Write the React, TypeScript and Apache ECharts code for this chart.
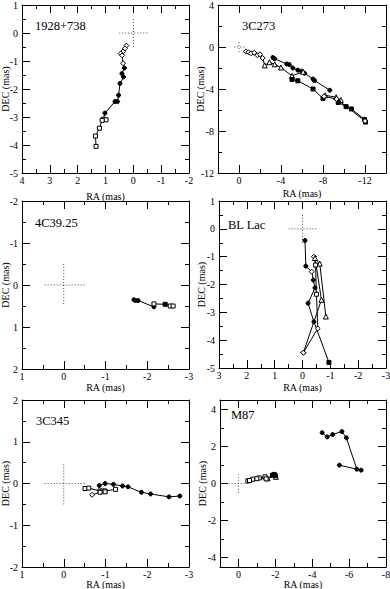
import React, { useEffect, useRef } from 'react';
import * as echarts from 'echarts';

type Pt = [number, number, string];

// ---------- data ----------
const titles = ['1928+738', '3C273', '4C39.25', 'BL Lac', '3C345', 'M87'];
const xName = 'RA (mas)';
const yName = 'DEC (mas)';

// origin cross (dotted)
const crossH: [number, number][] = [[-0.5, 0], [0.5, 0]];
const crossV: [number, number][] = [[0, -0.5], [0, 0.5]];

// markers: C filled circle, Q filled square, S open square, D open diamond, T open triangle, O open circle
const p1Tracks: Pt[][] = [[
  [0.25, -0.45, 'D'], [0.3, -0.55, 'D'], [0.37, -0.66, 'D'], [0.45, -0.73, 'D'], [0.4, -0.8, 'D'],
  [0.37, -1.08, 'D'], [0.32, -1.25, 'C'], [0.41, -1.45, 'C'], [0.35, -1.57, 'C'], [0.48, -1.8, 'C'],
  [0.53, -2.22, 'C'], [0.57, -2.45, 'C'], [0.66, -2.45, 'C'], [1.02, -2.86, 'C'], [1.08, -3.08, 'S'],
  [0.98, -3.1, 'S'], [1.12, -3.12, 'S'], [1.22, -3.4, 'S'], [1.36, -3.68, 'S'], [1.34, -4.05, 'S'],
]];

const p2Tracks: Pt[][] = [
  [
    [-3.22, -1.0, 'C'], [-3.4, -1.12, 'C'], [-4.55, -1.62, 'C'], [-4.8, -1.68, 'C'], [-5.13, -2.0, 'C'],
    [-5.6, -2.2, 'C'], [-5.95, -2.3, 'C'], [-6.25, -2.5, 'C'], [-7.05, -3.05, 'C'], [-7.2, -3.2, 'C'],
    [-8.65, -4.12, 'C'],
  ],
  [
    [-0.65, -0.42, 'D'], [-0.9, -0.5, 'D'], [-1.15, -0.6, 'D'], [-1.45, -0.55, 'D'], [-1.75, -0.78, 'D'],
    [-2.0, -0.7, 'D'], [-2.25, -1.05, 'D'], [-2.45, -1.75, 'T'], [-2.9, -1.45, 'T'], [-3.4, -1.65, 'T'],
    [-4.0, -1.95, 'T'], [-5.05, -2.75, 'T'], [-6.1, -2.35, 'T'],
  ],
  [
    [-5.05, -3.1, 'Q'], [-5.6, -3.22, 'Q'], [-7.05, -4.0, 'Q'], [-8.0, -4.9, 'Q'], [-8.2, -4.6, 'T'],
    [-9.25, -4.78, 'T'], [-9.7, -5.05, 'T'], [-9.45, -5.28, 'Q'], [-10.2, -5.68, 'Q'], [-10.7, -5.9, 'Q'],
    [-11.95, -6.9, 'Q'], [-12.05, -7.15, 'Q'],
  ],
  [
    [-8.1, -4.7, 'D'], [-9.3, -4.95, 'D'], [-12.0, -7.05, 'D'],
  ],
];

const p3Tracks: Pt[][] = [[
  [-1.68, 0.35, 'C'], [-1.72, 0.37, 'C'], [-1.78, 0.37, 'C'], [-2.16, 0.52, 'C'], [-2.16, 0.45, 'S'],
  [-2.43, 0.46, 'Q'], [-2.55, 0.5, 'S'], [-2.62, 0.5, 'S'],
]];

const p4Tracks: Pt[][] = [
  [
    [-0.09, -0.42, 'C'], [-0.12, -1.34, 'C'], [-0.33, -1.54, 'D'], [-0.39, -1.84, 'C'], [-0.45, -2.12, 'C'],
    [-0.2, -2.67, 'C'], [-0.41, -3.34, 'C'], [-0.95, -4.8, 'Q'],
  ],
  [
    [-0.41, -1.0, 'D'], [-0.47, -1.3, 'S'], [-0.5, -2.35, 'S'], [-0.55, -3.58, 'O'], [-0.03, -4.45, 'D'],
  ],
  [
    [-0.03, -4.45, 'D'], [-0.68, -2.55, 'T'], [-0.45, -1.05, 'T'], [-0.62, -1.25, 'T'], [-0.84, -3.15, 'T'],
  ],
];

const p5Tracks: Pt[][] = [
  [
    [-0.85, -0.05, 'C'], [-0.99, 0.0, 'C'], [-1.19, -0.02, 'C'], [-1.41, -0.06, 'C'], [-1.54, -0.08, 'C'],
    [-1.86, -0.21, 'C'], [-2.08, -0.25, 'C'], [-2.52, -0.32, 'C'], [-2.78, -0.3, 'C'],
  ],
  [
    [-0.51, -0.12, 'S'], [-0.6, -0.11, 'S'], [-0.87, -0.18, 'S'], [-0.93, -0.18, 'S'], [-0.99, -0.18, 'S'],
    [-1.24, -0.14, 'S'],
  ],
  [
    [-0.68, -0.27, 'D'], [-0.87, -0.21, 'S'], [-0.99, -0.2, 'S'],
  ],
];

const p6Tracks: Pt[][] = [
  [
    [-4.54, 2.74, 'C'], [-4.81, 2.51, 'C'], [-5.11, 2.64, 'C'], [-5.61, 2.8, 'C'], [-5.85, 2.46, 'C'],
    [-6.42, 0.77, 'C'], [-5.47, 0.99, 'C'],
  ],
  [[-6.65, 0.72, 'C']],
  [
    [-0.51, 0.14, 'S'], [-0.78, 0.23, 'S'], [-1.13, 0.3, 'S'], [-1.44, 0.36, 'S'], [-1.58, 0.28, 'T'],
    [-1.85, 0.45, 'Q'], [-1.94, 0.49, 'Q'], [-2.03, 0.36, 'T'],
  ],
  [
    [-0.6, 0.16, 'S'], [-1.0, 0.26, 'S'], [-1.5, 0.25, 'S'], [-2.0, 0.42, 'Q'],
  ],
];

// axis ranges
const p1X = [-2, 4]; const p1Y = [-5, 1];
const p2X = [-14, 2]; const p2Y = [-12, 4];
const p3X = [-3, 1]; const p3Y = [-2, 2];
const p4X = [-3, 3]; const p4Y = [-5, 1];
const p5X = [-3, 1]; const p5Y = [-2, 2];
const p6X = [-8, 1]; const p6Y = [-4.5, 4.5];

// tick labels / major ticks
const p1XMajor = [-2, -1, 0, 1, 2, 3, 4]; const p1YMajor = [-5, -4, -3, -2, -1, 0, 1];
const p2XMajor = [-12, -8, -4, 0]; const p2YMajor = [-12, -8, -4, 0, 4];
const p3XMajor = [-3, -2, -1, 0, 1]; const p3YMajor = [-2, -1, 0, 1, 2];
const p4XMajor = [-3, -2, -1, 0, 1, 2, 3]; const p4YMajor = [-5, -4, -3, -2, -1, 0, 1];
const p5XMajor = [-3, -2, -1, 0, 1]; const p5YMajor = [-2, -1, 0, 1, 2];
const p6XMajor = [-8, -6, -4, -2, 0]; const p6YMajor = [-4, -2, 0, 2, 4];

// minor ticks
const p1XMinor = [-1.5, -0.5, 0.5, 1.5, 2.5, 3.5]; const p1YMinor = [-4.5, -3.5, -2.5, -1.5, -0.5, 0.5];
const p2XMinor = [-14, -10, -6, -2, 2]; const p2YMinor = [-10, -6, -2, 2];
const p3XMinor = [-2.5, -1.5, -0.5, 0.5]; const p3YMinor = [-1.5, -0.5, 0.5, 1.5];
const p4XMinor = [-2.5, -1.5, -0.5, 0.5, 1.5, 2.5]; const p4YMinor = [-4.5, -3.5, -2.5, -1.5, -0.5, 0.5];
const p5XMinor = [-2.5, -1.5, -0.5, 0.5]; const p5YMinor = [-1.5, -0.5, 0.5, 1.5];
const p6XMinor = [-7, -5, -3, -1, 1]; const p6YMinor = [-3, -1, 1, 3];

// ---------- layout ----------
const FONT = 'Liberation Serif';
const panels = [
  { tracks: p1Tracks, x: p1X, y: p1Y, xMaj: p1XMajor, yMaj: p1YMajor, xMin: p1XMinor, yMin: p1YMinor, yInv: false,
    box: { left: 22, top: 5, width: 167, height: 168 }, title: { x: 35, y: 27 }, raY: 196, decX: 5 },
  { tracks: p2Tracks, x: p2X, y: p2Y, xMaj: p2XMajor, yMaj: p2YMajor, xMin: p2XMinor, yMin: p2YMinor, yInv: false,
    box: { left: 218, top: 5, width: 168, height: 168 }, title: { x: 242, y: 27 }, raY: 193, decX: 200 },
  { tracks: p3Tracks, x: p3X, y: p3Y, xMaj: p3XMajor, yMaj: p3YMajor, xMin: p3XMinor, yMin: p3YMinor, yInv: true,
    box: { left: 22, top: 201, width: 167, height: 168 }, title: { x: 35, y: 224 }, raY: 387, decX: 5 },
  { tracks: p4Tracks, x: p4X, y: p4Y, xMaj: p4XMajor, yMaj: p4YMajor, xMin: p4XMinor, yMin: p4YMinor, yInv: false,
    box: { left: 219, top: 201, width: 167, height: 167 }, title: { x: 228, y: 226 }, raY: 387, decX: 201 },
  { tracks: p5Tracks, x: p5X, y: p5Y, xMaj: p5XMajor, yMaj: p5YMajor, xMin: p5XMinor, yMin: p5YMinor, yInv: false,
    box: { left: 22, top: 400, width: 167, height: 167 }, title: { x: 36, y: 422 }, raY: 584.5, decX: 5 },
  { tracks: p6Tracks, x: p6X, y: p6Y, xMaj: p6XMajor, yMaj: p6YMajor, xMin: p6XMinor, yMin: p6YMinor, yInv: false,
    box: { left: 220, top: 400, width: 166, height: 167 }, title: { x: 231, y: 416 }, raY: 584.5, decX: 202 },
];

const markerStyle = (m: string) => {
  const open = { color: '#fff', borderColor: '#000', borderWidth: 1 };
  const filled = { color: '#000', borderColor: '#000', borderWidth: 1 };
  switch (m) {
    case 'C': return { symbol: 'circle', symbolSize: 4, itemStyle: filled };
    case 'Q': return { symbol: 'rect', symbolSize: 4, itemStyle: filled };
    case 'S': return { symbol: 'rect', symbolSize: 4, itemStyle: open };
    case 'D': return { symbol: 'diamond', symbolSize: 5, itemStyle: open };
    case 'T': return { symbol: 'triangle', symbolSize: 5, itemStyle: open };
    default: return { symbol: 'circle', symbolSize: 4, itemStyle: open };
  }
};

function buildOption() {
  const grid: any[] = [];
  const xAxis: any[] = [];
  const yAxis: any[] = [];
  const series: any[] = [];
  const graphic: any[] = [];
  const lineStyle = { color: '#000', width: 1 };
  const labelStyle = { color: '#000', fontSize: 10, fontFamily: FONT, fontWeight: 'normal' };
  const textBase = { fill: '#000', fontFamily: FONT, fontWeight: 'normal' };

  panels.forEach((p, i) => {
    grid.push({ ...p.box, containLabel: false, outerBoundsMode: 'none' });
    const xb = { type: 'value', gridIndex: i, min: p.x[0], max: p.x[1], inverse: true, splitLine: { show: false },
      axisLine: { show: false, onZero: false, lineStyle }, axisLabel: { show: false }, axisTick: { show: false } };
    const yb = { type: 'value', gridIndex: i, min: p.y[0], max: p.y[1], inverse: p.yInv, splitLine: { show: false },
      axisLine: { show: false, onZero: false, lineStyle }, axisLabel: { show: false }, axisTick: { show: false } };
    const major = (vals: number[]) => ({ show: true, inside: true, length: 8, customValues: vals, lineStyle });
    const minor = (vals: number[]) => ({ show: true, inside: true, length: 4, customValues: vals, lineStyle });
    xAxis.push(
      { ...xb, position: 'bottom', axisLine: { show: true, onZero: false, lineStyle }, axisTick: major(p.xMaj),
        axisLabel: { show: true, customValues: p.xMaj, margin: 2, ...labelStyle } },
      { ...xb, position: 'bottom', axisTick: minor(p.xMin) },
      { ...xb, position: 'top', axisLine: { show: true, onZero: false, lineStyle }, axisTick: major(p.xMaj) },
      { ...xb, position: 'top', axisTick: minor(p.xMin) },
    );
    yAxis.push(
      { ...yb, position: 'left', axisLine: { show: true, onZero: false, lineStyle }, axisTick: major(p.yMaj),
        axisLabel: { show: true, customValues: p.yMaj, margin: 4, ...labelStyle } },
      { ...yb, position: 'left', axisTick: minor(p.yMin) },
      { ...yb, position: 'right', axisLine: { show: true, onZero: false, lineStyle }, axisTick: major(p.yMaj) },
      { ...yb, position: 'right', axisTick: minor(p.yMin) },
    );
    const ai = i * 4;
    [crossH, crossV].forEach((c) => {
      series.push({ type: 'line', xAxisIndex: ai, yAxisIndex: ai, data: c, showSymbol: false, symbol: 'none',
        lineStyle: { color: '#444', width: 1, type: [1, 2] }, silent: true, z: 1 });
    });
    p.tracks.forEach((t) => {
      series.push({
        type: 'line', xAxisIndex: ai, yAxisIndex: ai, showSymbol: true, z: 3,
        lineStyle: { color: '#000', width: 1 },
        data: t.map(([x, y, m]) => ({ value: [x, y], ...markerStyle(m) })),
      });
    });
    graphic.push({ type: 'text', left: p.title.x, top: p.title.y - 8,
      style: { text: titles[i], fontSize: 12.5, ...textBase } });
    graphic.push({ type: 'text', x: p.box.left + p.box.width / 2, y: p.raY,
      style: { text: xName, fontSize: 10, align: 'center', verticalAlign: 'middle', ...textBase } });
    graphic.push({ type: 'text', x: p.decX, y: p.box.top + p.box.height / 2, rotation: Math.PI / 2,
      style: { text: yName, fontSize: 10, align: 'center', verticalAlign: 'middle', ...textBase } });
  });
  return { animation: false, backgroundColor: '#fff', textStyle: { fontFamily: FONT, fontWeight: 'normal' },
    grid, xAxis, yAxis, series, graphic };
}

export default function App() {
  const ref = useRef<HTMLDivElement>(null);
  useEffect(() => {
    if (!ref.current) return;
    const chart = echarts.init(ref.current, null, { renderer: 'svg' });
    chart.setOption(buildOption() as any);
    return () => chart.dispose();
  }, []);
  return <div ref={ref} style={{ position: 'fixed', left: 0, top: 0, width: 390, height: 589, background: '#fff' }} />;
}
